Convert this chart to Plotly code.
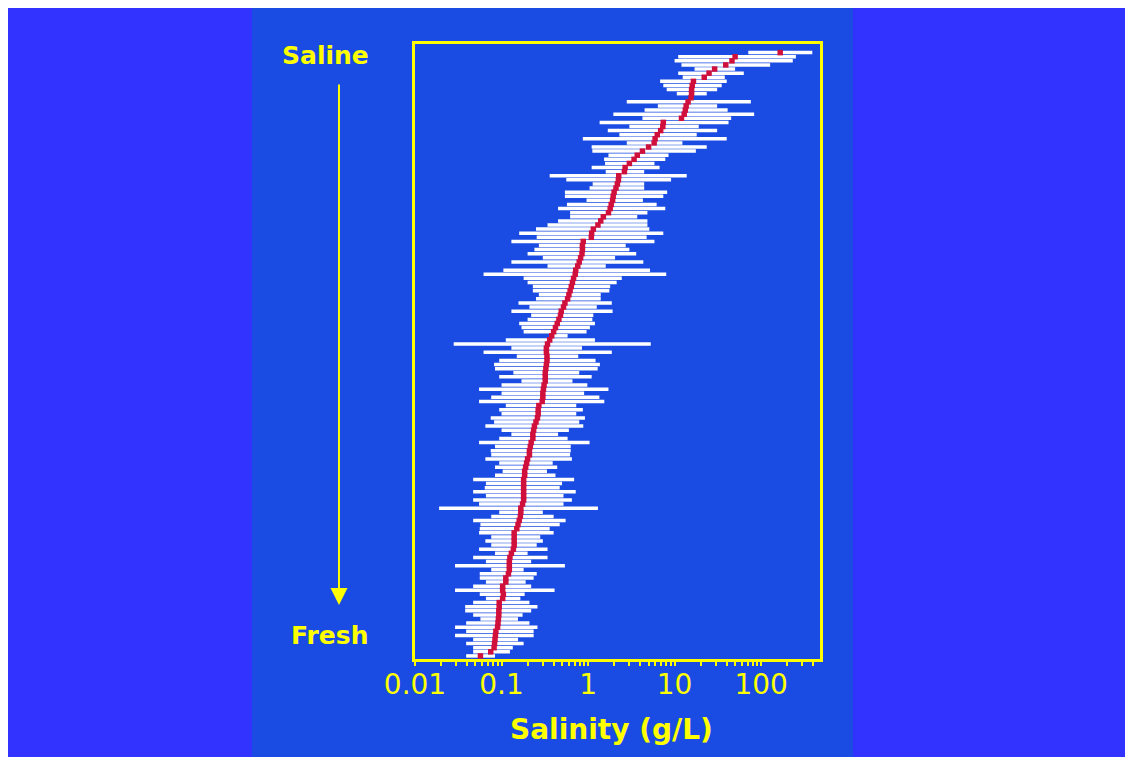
import plotly.graph_objects as go

# Salinity ranges (g/L) for each record, from saline (top) to fresh (bottom)
sal_min = [71, 11, 10, 12, 17, 11, 12.4, 6.8, 7.4, 8.1, 10.6, 15.5, 2.8, 6.4, 4.5, 1.96, 4.25, 1.36, 3.0, 1.69,
           2.3, 0.87, 2.8, 1.1, 1.12, 1.72, 1.53, 1.57, 1.1, 1.6, 0.36, 0.56, 1.13, 1.04, 0.54, 0.54, 0.96, 0.57, 0.45, 0.62,
           0.62, 0.45, 0.34, 0.25, 0.16, 0.255, 0.13, 0.27, 0.24, 0.2, 0.3, 0.13, 0.34, 0.105, 0.062, 0.18, 0.2, 0.23, 0.23, 0.27,
           0.25, 0.157, 0.21, 0.13, 0.22, 0.2, 0.16, 0.17, 0.18, 0.36, 0.112, 0.028, 0.13, 0.062, 0.15, 0.094, 0.082, 0.084, 0.137, 0.094,
           0.17, 0.1, 0.055, 0.1, 0.076, 0.055, 0.112, 0.094, 0.1, 0.075, 0.082, 0.065, 0.1, 0.13, 0.094, 0.055, 0.084, 0.075, 0.076, 0.065,
           0.094, 0.084, 0.103, 0.084, 0.047, 0.066, 0.064, 0.047, 0.066, 0.047, 0.055, 0.019, 0.094, 0.076, 0.047, 0.057, 0.056, 0.055, 0.076, 0.065,
           0.076, 0.055, 0.084, 0.047, 0.066, 0.029, 0.076, 0.056, 0.056, 0.066, 0.047, 0.029, 0.056, 0.066, 0.047, 0.038, 0.038, 0.047, 0.057, 0.039,
           0.029, 0.039, 0.029, 0.047, 0.039, 0.047, 0.047, 0.039]
sal_max = [390, 252, 232, 127, 50, 63, 38, 40, 35, 31, 23.5, 15.5, 76, 31, 41, 83, 45, 42, 19, 31,
           18, 40, 12.3, 23.5, 17.6, 8.5, 7.8, 5.85, 6.7, 4.45, 13.8, 9.1, 4.45, 4.45, 8.2, 7.4, 4.3, 6.2, 7.8, 4.85,
           3.7, 4.85, 4.85, 5.1, 7.4, 4.75, 5.85, 2.72, 3.0, 3.6, 2.05, 4.35, 1.6, 5.2, 8.0, 2.45, 2.14, 1.8, 1.76, 1.4,
           1.4, 1.88, 1.26, 1.92, 1.15, 1.12, 1.2, 1.05, 0.96, 0.58, 1.2, 5.3, 0.85, 1.88, 0.77, 1.22, 1.37, 1.29, 0.79, 1.1,
           0.66, 0.98, 1.72, 0.9, 1.35, 1.54, 0.73, 0.87, 0.73, 0.92, 0.79, 0.88, 0.6, 0.45, 0.58, 1.04, 0.63, 0.63, 0.62, 0.65,
           0.39, 0.44, 0.335, 0.42, 0.69, 0.5, 0.47, 0.72, 0.52, 0.65, 0.52, 1.3, 0.3, 0.4, 0.55, 0.47, 0.36, 0.4, 0.28, 0.3,
           0.255, 0.34, 0.2, 0.34, 0.22, 0.54, 0.18, 0.255, 0.235, 0.19, 0.22, 0.41, 0.185, 0.165, 0.21, 0.26, 0.22, 0.175, 0.155, 0.21,
           0.26, 0.235, 0.235, 0.155, 0.18, 0.135, 0.125, 0.084]
sal_median = [166, 50, 46, 39, 29, 25, 22, 16.5, 16, 15.7, 15.7, 15.5, 14.3, 13.6, 13.3, 12.9, 12, 7.4, 7.3, 6.9,
              6.3, 5.95, 5.8, 5.0, 4.25, 3.7, 3.4, 3.0, 2.68, 2.63, 2.26, 2.24, 2.18, 2.1, 2.0, 1.95, 1.92, 1.85, 1.8, 1.72,
              1.5, 1.4, 1.3, 1.15, 1.1, 1.09, 0.88, 0.86, 0.86, 0.85, 0.82, 0.79, 0.76, 0.72, 0.71, 0.68, 0.66, 0.64, 0.62, 0.6,
              0.58, 0.54, 0.52, 0.49, 0.48, 0.46, 0.44, 0.42, 0.40, 0.38, 0.36, 0.34, 0.33, 0.33, 0.335, 0.335, 0.33, 0.325, 0.32, 0.32,
              0.32, 0.31, 0.305, 0.3, 0.3, 0.295, 0.27, 0.265, 0.265, 0.26, 0.25, 0.24, 0.235, 0.23, 0.23, 0.22, 0.215, 0.21, 0.21, 0.2,
              0.195, 0.19, 0.185, 0.185, 0.18, 0.18, 0.18, 0.18, 0.18, 0.18, 0.175, 0.167, 0.167, 0.165, 0.16, 0.155, 0.15, 0.14, 0.14, 0.14,
              0.14, 0.137, 0.13, 0.125, 0.123, 0.123, 0.123, 0.12, 0.112, 0.112, 0.103, 0.103, 0.105, 0.103, 0.094, 0.094, 0.093, 0.093, 0.092, 0.091,
              0.09, 0.086, 0.085, 0.084, 0.083, 0.082, 0.075, 0.057]

tick_vals = [0.01, 0.1, 1, 10, 100]
tick_text = ["0.01", "0.1", "1", "10", "100"]
minor_vals = [m * 10 ** e for e in range(-2, 3) for m in range(2, 10) if m * 10 ** e < 480]

rows = list(range(1, len(sal_min) + 1))

YEL = "#FFFF00"
PANEL = "#1A4BE3"
OUTER = "#3333FF"

bx, by = [], []
for lo, hi, r in zip(sal_min, sal_max, rows):
    bx += [lo, hi, None]
    by += [r, r, None]

fig = go.Figure()
fig.add_trace(go.Scatter(x=bx, y=by, mode="lines", line=dict(color="white", width=3.5),
                         hoverinfo="skip", showlegend=False))
fig.add_trace(go.Scatter(x=sal_median, y=rows, mode="markers",
                         marker=dict(symbol="square", size=5.5, color="#D0103C", line=dict(width=0)),
                         showlegend=False))

fig.update_xaxes(type="log", range=[-2, 2.68], tickvals=tick_vals, ticktext=tick_text,
                 showgrid=False, zeroline=False, showline=True, linecolor=YEL, linewidth=3, mirror=True,
                 ticks="outside", ticklen=4, tickwidth=2, tickcolor=YEL, ticklabelstandoff=-6,
                 tickfont=dict(family="DejaVu Sans", size=28, color=YEL),
                 minor=dict(tickvals=minor_vals, ticks="outside", ticklen=4, tickwidth=2, tickcolor=YEL, showgrid=False))
fig.update_yaxes(range=[148.75, -1.1], showgrid=False, zeroline=False, showticklabels=False, ticks="",
                 showline=True, linecolor=YEL, linewidth=3, mirror=True)

fig.add_shape(type="rect", xref="paper", yref="paper", x0=-0.4025, x1=1.0815, y0=-0.3, y1=1.2,
              fillcolor=PANEL, line=dict(width=0), layer="below")

fig.add_annotation(xref="paper", yref="paper", x=-0.222, y=0.982, xanchor="center", yanchor="middle",
                   text="<b>Saline</b>", showarrow=False,
                   font=dict(family="DejaVu Sans", size=25, color=YEL))
fig.add_annotation(xref="paper", yref="paper", x=-0.21, y=0.0374, xanchor="center", yanchor="middle",
                   text="<b>Fresh</b>", showarrow=False,
                   font=dict(family="DejaVu Sans", size=25, color=YEL))
fig.add_annotation(xref="paper", yref="paper", x=-0.1877, y=0.0878, text="", showarrow=True,
                   ax=0, ay=-522, arrowhead=2, arrowsize=1.7, arrowwidth=2, arrowcolor=YEL)
fig.add_annotation(xref="paper", yref="paper", x=0.486, y=-0.1154, xanchor="center", yanchor="middle",
                   text="<b>Salinity (g/L)</b>", showarrow=False,
                   font=dict(family="DejaVu Sans", size=28, color=YEL))

fig.update_layout(width=1133, height=752, autosize=False,
                  margin=dict(l=407, r=321, t=36, b=101),
                  paper_bgcolor=OUTER, plot_bgcolor=PANEL, showlegend=False)

fig.write_html("out.html")
